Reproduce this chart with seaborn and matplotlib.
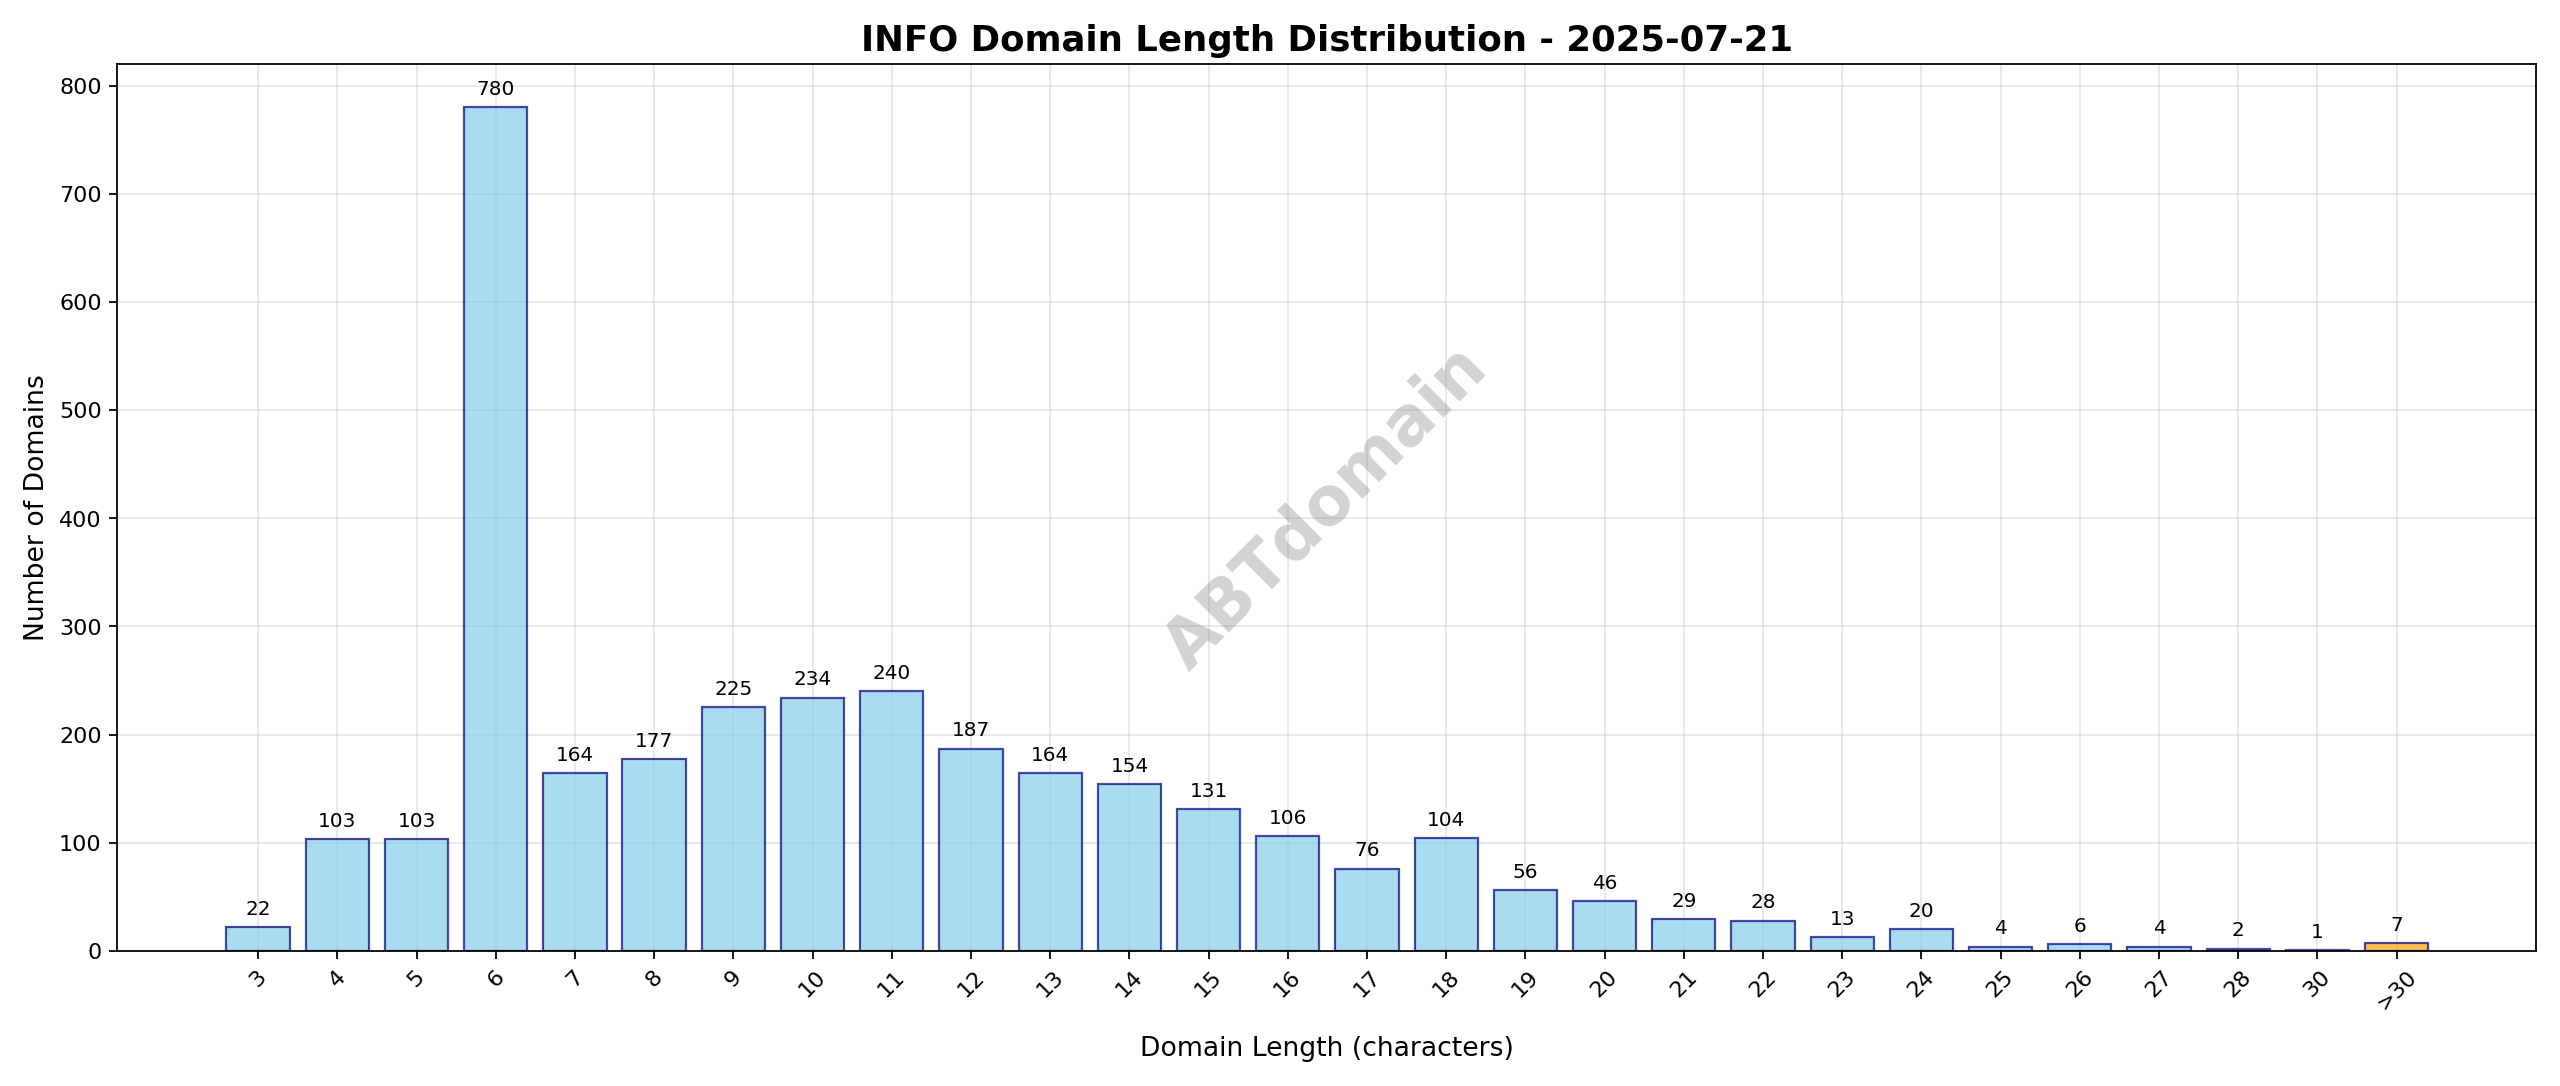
import matplotlib
matplotlib.use("Agg")
from matplotlib import pyplot as plt
import seaborn as sns

labels = ["3", "4", "5", "6", "7", "8", "9", "10", "11", "12", "13", "14", "15", "16",
          "17", "18", "19", "20", "21", "22", "23", "24", "25", "26", "27", "28", "30", ">30"]
counts = [22, 103, 103, 780, 164, 177, 225, 234, 240, 187, 164, 154, 131, 106,
          76, 104, 56, 46, 29, 28, 13, 20, 4, 6, 4, 2, 1, 7]

colors = ["skyblue"] * (len(labels) - 1) + ["orange"]

fig, ax = plt.subplots(figsize=(16, 6.79), dpi=160)
sns.barplot(x=labels, y=counts, hue=labels, palette=colors, legend=False,
            width=0.8, alpha=0.7, edgecolor="navy", linewidth=1.0, saturation=1, ax=ax)
for p in ax.patches:
    p.set_edgecolor((0, 0, 0.5, 0.7))

for i, v in enumerate(counts):
    ax.text(i, v + 8, str(v), ha="center", va="bottom", fontsize=9)

ax.set_xlim(-1.78, len(labels) - 1 + 1.76)
ax.set_ylim(0, 820)
ax.set_title("INFO Domain Length Distribution - 2025-07-21", fontsize=16, fontweight="bold")
ax.set_xlabel("Domain Length (characters)", fontsize=12, labelpad=10)
ax.set_ylabel("Number of Domains", fontsize=12)
ax.tick_params(axis="x", rotation=45)
ax.grid(True, alpha=0.3)
ax.set_axisbelow(True)

ax.text(0.5, 0.5, "ABTdomain", transform=ax.transAxes, fontsize=30, fontweight="bold",
        color="gray", alpha=0.35, rotation=45, ha="center", va="center")

plt.tight_layout()
plt.savefig("out.png")
